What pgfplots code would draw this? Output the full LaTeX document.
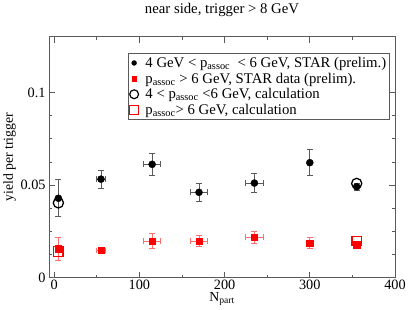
\documentclass[border=0pt]{standalone}
\usepackage{amsmath}
\usepackage{fontspec}
\setmainfont{Liberation Serif}
\usepackage{pgfplots}
\pgfplotsset{compat=1.18}
\definecolor{axgray}{RGB}{90,90,90}
\definecolor{errred}{RGB}{255,110,110}
\begin{document}
\begin{tikzpicture}
\begin{axis}[
  scale only axis, width=352pt, height=245pt,
  xmin=-6, xmax=400, ymin=0, ymax=0.13,
  xtick={0,100,200,300,400}, minor x tick num=1,
  ytick={0,0.05,0.1}, yticklabels={0,0.05,0.1}, minor y tick num=3,
  /pgf/number format/assume math mode=true,
  tick label style={font=\fontsize{14.5}{16}\selectfont},
  xticklabel style={yshift=1pt},
  major tick length=6pt, minor tick length=3pt,
  tick align=inside, ticklabel style={text=black},
  axis line style={axgray, line width=0.8pt},
  every tick/.style={axgray, line width=0.8pt},
  title={near side, trigger > 8 GeV},
  title style={font=\fontsize{15}{17}\selectfont, yshift=11pt},
  xlabel={N$_{\text{part}}$}, ylabel={yield per trigger},
  xlabel style={yshift=4pt},
  ylabel style={yshift=-2pt},
  label style={font=\fontsize{14}{16}\selectfont},
  legend style={at={(rel axis cs:0.985,0.931)}, anchor=north east, draw=axgray,
    font=\fontsize{15}{17}\selectfont, row sep=0pt, inner sep=1.5pt},
  legend cell align=left,
]
\addlegendimage{only marks, mark=*, mark size=2.5pt, black}
\addlegendentry{\hspace{5pt}4 GeV < p$_{\text{assoc}}$ \ < 6 GeV, STAR (prelim.)}
\addlegendimage{only marks, mark=square*, mark size=2.3pt, red, draw=red, fill=red}
\addlegendentry{\hspace{5pt}p$_{\text{assoc}}$ > 6 GeV, STAR data (prelim).}
\addlegendimage{only marks, mark=o, mark size=4.5pt, black, line width=1.2pt}
\addlegendentry{\hspace{5pt}4 < p$_{\text{assoc}}$ <6 GeV, calculation}
\addlegendimage{only marks, mark=square, mark size=4.3pt, red, draw=red, line width=1.1pt}
\addlegendentry{\hspace{5pt}p$_{\text{assoc}}$> 6 GeV, calculation}

\addplot[forget plot, only marks, mark=*, mark size=3.6pt, black,
  error bars/.cd, x dir=both, x explicit, y dir=both, y explicit,
  error bar style={axgray, line width=0.8pt}, error mark options={rotate=90, mark size=3pt, axgray, line width=0.8pt}]
  table[x=x, y=y, x error=ex, y error=ey] {
x y ex ey
5 0.0429 0 0.0100
55 0.0532 5 0.0050
115 0.0612 10 0.0060
170 0.0461 10 0.0050
235 0.0511 10 0.0050
300 0.0621 0 0.0070
355 0.0491 0 0.0020
};
\addplot[forget plot, only marks, mark=square*, mark size=3.2pt, red,
  error bars/.cd, x dir=both, x explicit, y dir=both, y explicit,
  error bar style={errred, line width=0.8pt}, error mark options={rotate=90, mark size=3pt, errred, line width=0.8pt}]
  table[x=x, y=y, x error=ex, y error=ey] {
x y ex ey
5 0.0156 0 0.0060
55 0.0147 5 0.0010
115 0.0198 10 0.0040
170 0.0198 10 0.0030
235 0.0218 10 0.0030
300 0.0188 0 0.0030
355 0.0179 0 0.0010
};
\addplot[forget plot, only marks, mark=o, mark size=5.2pt, black, line width=1.3pt]
  coordinates {(5,0.0404) (355,0.0509)};
\addplot[forget plot, only marks, mark=square, mark size=4.8pt, red, draw=red, line width=1.3pt]
  coordinates {(5,0.0142) (355,0.0198)};
\end{axis}
\end{tikzpicture}
\end{document}
